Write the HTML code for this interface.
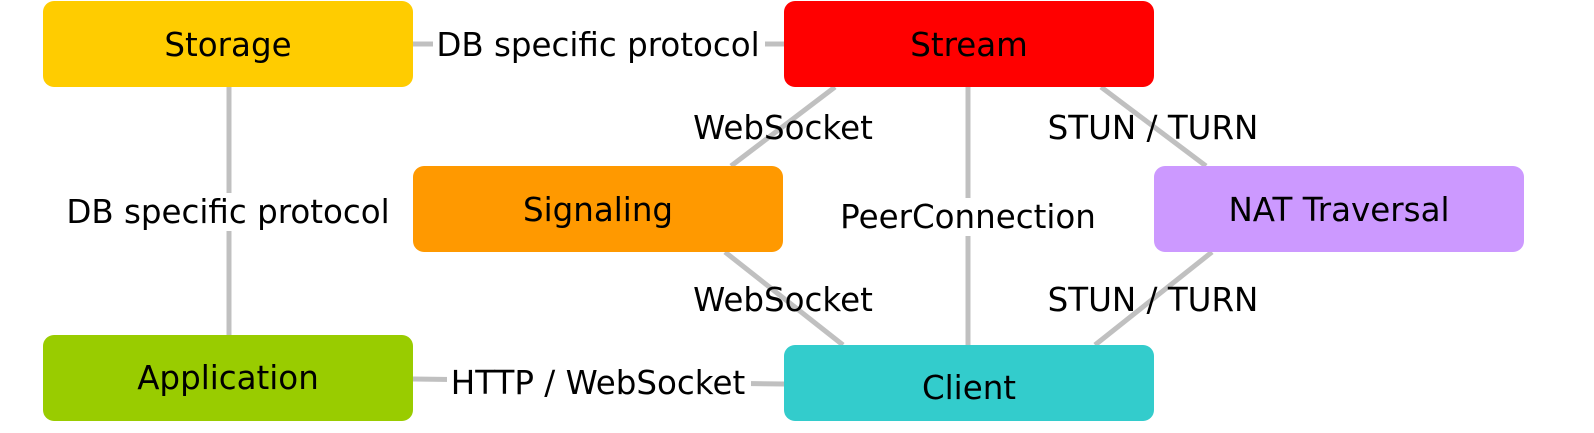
<!DOCTYPE html>
<html><head><style>html,body{margin:0;padding:0;background:#fff}</style></head>
<body>
<svg width="1594" height="428" xmlns="http://www.w3.org/2000/svg" font-family="DejaVu Sans, sans-serif" font-size="32.5">
<g stroke="#c0c0c0" stroke-width="5" fill="none">
<line x1="413" y1="44" x2="784" y2="44"/>
<line x1="229" y1="87" x2="229" y2="335"/>
<line x1="835" y1="87" x2="731" y2="166"/>
<line x1="1101" y1="87" x2="1206" y2="166"/>
<line x1="968" y1="87" x2="968" y2="345"/>
<line x1="725" y1="252" x2="843" y2="345"/>
<line x1="1212" y1="252" x2="1095" y2="345"/>
<line x1="413" y1="379" x2="784" y2="384"/>
</g>
<rect x="43" y="1" width="370" height="86" rx="11" fill="#ffcc00"/>
<rect x="784" y="1" width="370" height="86" rx="11" fill="#ff0000"/>
<rect x="413" y="166" width="370" height="86" rx="11" fill="#ff9900"/>
<rect x="1154" y="166" width="370" height="86" rx="11" fill="#cc99ff"/>
<rect x="43" y="335" width="370" height="86" rx="11" fill="#99cc00"/>
<rect x="784" y="345" width="370" height="76" rx="11" fill="#33cccc"/>
<g fill="#fff">
<rect x="433" y="26" width="332" height="38"/>
<rect x="63" y="193" width="331" height="38"/>
<rect x="837" y="198" width="263" height="38"/>
<rect x="447" y="364" width="304" height="38"/>
</g>
<g text-anchor="middle" fill="#000">
<text x="228" y="56">Storage</text>
<text x="969" y="56">Stream</text>
<text x="598" y="221">Signaling</text>
<text x="1339" y="221">NAT Traversal</text>
<text x="228" y="389">Application</text>
<text x="969" y="399">Client</text>
<text x="598" y="56">DB specific protocol</text>
<text x="228" y="223">DB specific protocol</text>
<text x="783" y="139">WebSocket</text>
<text x="1153" y="139">STUN / TURN</text>
<text x="968" y="228">PeerConnection</text>
<text x="783" y="311">WebSocket</text>
<text x="1153" y="311">STUN / TURN</text>
<text x="598" y="394">HTTP / WebSocket</text>
</g>
</svg>
</body></html>
